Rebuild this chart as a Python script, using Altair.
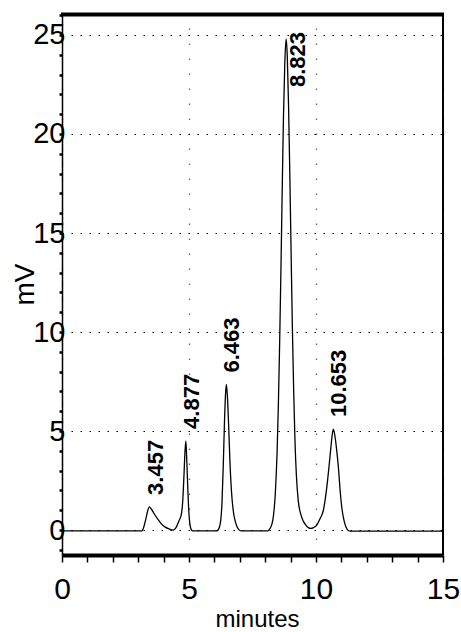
import altair as alt
import pandas as pd

# ---- data ----
time_min = [0.0, 3.15, 3.22, 3.30, 3.37, 3.44, 3.52, 3.66, 3.80, 3.92, 4.05, 4.19, 4.38,
            4.50, 4.60, 4.70, 4.75, 4.80, 4.84, 4.877, 4.91, 4.95, 4.99, 5.03, 5.08, 5.14,
            6.10, 6.20, 6.25, 6.30, 6.35, 6.40, 6.44, 6.47, 6.51, 6.56, 6.61, 6.67, 6.74,
            6.81, 6.88, 6.96, 7.05,
            8.10, 8.20, 8.30, 8.40, 8.47, 8.52, 8.57, 8.62, 8.67, 8.72, 8.77, 8.823, 8.87,
            8.92, 8.97, 9.02, 9.07, 9.12, 9.17, 9.23, 9.30, 9.40, 9.50, 9.60, 9.70, 9.80,
            9.90, 10.03, 10.15, 10.29, 10.40, 10.48, 10.55, 10.62, 10.68, 10.74, 10.80,
            10.88, 10.95, 11.02, 11.10, 11.18, 11.27, 11.35, 15.0]
signal_mv = [-0.04, -0.04, 0.15, 0.55, 0.95, 1.17, 1.05, 0.76, 0.50, 0.30, 0.16, 0.07, 0.0,
             0.15, 0.45, 0.80, 1.4, 2.7, 3.9, 4.5, 3.6, 2.2, 1.0, 0.35, 0.05, -0.04,
             -0.04, 0.15, 0.5, 1.4, 3.3, 5.6, 6.9, 7.35, 6.8, 5.3, 3.5, 2.0, 1.0,
             0.5, 0.2, 0.02, -0.04,
             -0.04, 0.1, 0.5, 1.9, 4.0, 6.4, 9.5, 13.2, 17.2, 20.9, 23.5, 24.8, 23.9,
             21.4, 17.9, 14.0, 10.2, 7.1, 4.6, 2.7, 1.5, 0.8, 0.45, 0.25, 0.12, 0.08,
             0.12, 0.25, 0.55, 1.0, 1.9, 2.8, 3.7, 4.6, 5.1, 4.8, 4.2,
             3.2, 2.0, 1.1, 0.5, 0.15, -0.02, -0.05, -0.05]

peak_rt = [3.457, 4.877, 6.463, 8.823, 10.653]
peak_height = [1.17, 4.5, 7.35, 24.8, 5.1]
peak_label = ["3.457", "4.877", "6.463", "8.823", "10.653"]

y_ticks = list(range(-1, 27))
x_ticks = list(range(0, 16))
y_title = "mV"
x_title = "minutes"

signal = pd.DataFrame({"t": time_min, "mv": signal_mv})
peaks = pd.DataFrame({"t": peak_rt, "mv": peak_height, "lab": peak_label})

W, H = 381, 542
NARROW = "Liberation Sans Narrow, Arial Narrow, Liberation Sans, Arial, sans-serif"

x_scale = alt.Scale(domain=[0, 15], nice=False, zero=False)
y_scale = alt.Scale(domain=[-1.26, 26.11], nice=False, zero=False)

x_axis = alt.Axis(
    values=x_ticks, tickCount=40, format="d", title=x_title, orient="bottom",
    labelExpr="datum.value % 5 === 0 ? datum.label : ''",
    labelFont=NARROW, labelFontSize=30, labelColor="black", labelPadding=12,
    labelFlush=False, labelOverlap=False,
    tickSize=7, tickWidth=1.5, tickColor="black",
    domainWidth=4, domainColor="black",
    grid=True, gridColor="#666666", gridDash=[1.5, 13.5], gridWidth=1.3,
    gridOpacity={"condition": {"test": "datum.value % 5 === 0", "value": 1}, "value": 0},
    titleFont=NARROW, titleFontSize=24, titleFontWeight="normal", titleColor="black",
    titleX=195, titleY=52, titleBaseline="top", titleAlign="center",
)
y_axis = alt.Axis(
    values=y_ticks, tickCount=60, format="d", title=y_title, orient="left",
    labelExpr="datum.value % 5 === 0 ? datum.label : ''",
    labelFont=NARROW, labelFontSize=29, labelColor="black", labelPadding=-6,
    labelFlush=False, labelOverlap=False, labelBaseline="middle",
    tickSize=3, tickWidth=2.5, tickColor="black",
    domainWidth=1.5, domainColor="black",
    grid=True, gridColor="black", gridDash=[1.5, 7.5], gridWidth=1.2,
    gridOpacity={"condition": {"test": "datum.value % 5 === 0", "value": 1}, "value": 0},
    titleFont=NARROW, titleFontSize=28, titleFontWeight="normal", titleColor="black",
    titleX=-37, titleY=271, titleBaseline="middle", titleAngle=270, titleAlign="center",
)

line = alt.Chart(signal).mark_line(color="black", strokeWidth=1.3, interpolate="monotone").encode(
    x=alt.X("t:Q", scale=x_scale, axis=x_axis),
    y=alt.Y("mv:Q", scale=y_scale, axis=y_axis),
)

labels_up = alt.Chart(peaks).transform_filter("datum.mv < 20").mark_text(
    angle=270, align="left", baseline="middle", dx=12, dy=6,
    font="Liberation Sans, Arial, sans-serif", fontSize=22, fontWeight="bold", color="black",
).encode(x=alt.X("t:Q", scale=x_scale), y=alt.Y("mv:Q", scale=y_scale), text="lab:N")

labels_down = alt.Chart(peaks).transform_filter("datum.mv >= 20").mark_text(
    angle=270, align="right", baseline="middle", dx=7, dy=12,
    font="Liberation Sans, Arial, sans-serif", fontSize=22, fontWeight="bold", color="black",
).encode(x=alt.X("t:Q", scale=x_scale), y=alt.Y("mv:Q", scale=y_scale), text="lab:N")

frame_src = pd.DataFrame({"k": [0]})
top_border = alt.Chart(frame_src).mark_rule(color="black", strokeWidth=4).encode(
    x=alt.value(-1), x2=alt.value(W + 1), y=alt.value(1.5))
right_border = alt.Chart(frame_src).mark_rule(color="black", strokeWidth=2).encode(
    x=alt.value(W), y=alt.value(0), y2=alt.value(H))

chart = alt.layer(line, labels_up, labels_down, top_border, right_border).properties(
    width=W, height=H,
    autosize=alt.AutoSizeParams(type="none"),
    padding={"left": 62, "top": 13, "right": 18, "bottom": 77},
    background="white",
).configure_view(stroke=None)

chart.save("out.html", embed_options={"renderer": "svg", "actions": False})
